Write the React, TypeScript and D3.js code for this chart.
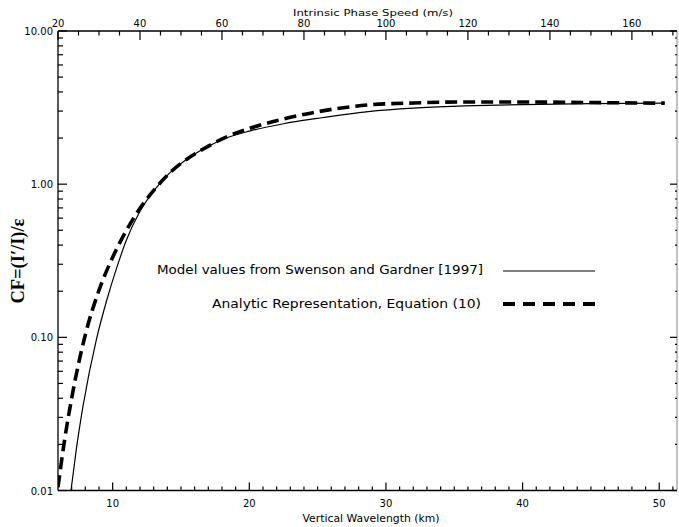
import React from "react";
import * as d3 from "d3";

// ---- data ----
const modelLambda = [6.95, 7.33, 7.84, 8.8, 9.53, 10.3, 11.0, 12.0, 13.2, 14.2, 15.4, 16.6, 18.3, 20.0, 22.5, 25.0, 28.7, 32.0, 35.7, 40.0, 45.0, 50.4];
const modelCF = [0.0100, 0.0183, 0.036, 0.096, 0.17, 0.285, 0.43, 0.665, 0.95, 1.19, 1.45, 1.69, 2.0, 2.22, 2.48, 2.69, 2.98, 3.14, 3.24, 3.31, 3.36, 3.38];

const analyticLambda = [6.0, 6.5, 7.0, 8.0, 9.0, 10.0, 11.0, 12.0, 13.2, 14.2, 15.4, 16.6, 18.3, 20.0, 22.5, 25.0, 28.7, 32.0, 36.0, 40.0, 45.0, 50.4];
const analyticCF = [0.0105, 0.0219, 0.040, 0.104, 0.203, 0.333, 0.498, 0.695, 0.955, 1.19, 1.45, 1.69, 2.03, 2.31, 2.66, 2.97, 3.29, 3.39, 3.44, 3.44, 3.41, 3.38];

const yMajorTicks = [0.01, 0.1, 1, 10];
const yMajorLabels = ["0.01", "0.10", "1.00", "10.00"];
const bottomMajorTicks = [10, 20, 30, 40, 50];
const topMajorTicks = [20, 40, 60, 80, 100, 120, 140, 160];

const legendLabels = [
  "Model values from Swenson and Gardner [1997]",
  "Analytic Representation, Equation (10)",
];

const xTitle = "Vertical Wavelength (km)";
const topTitle = "Intrinsic Phase Speed (m/s)";
const yTitle = "CF=(I\u2032/I)/\u03b5";

// ---- layout ----
const W = 679, H = 527;
const L = 58, R = 677, T = 31, B = 490.5;

export default function App() {
  const x = d3.scaleLinear().domain([6, 51.3]).range([L, R]);
  const y = d3.scaleLog().domain([0.01, 10]).range([B, T]);
  const cToX = (c: number) => x(c * 0.3);

  const line = d3
    .line<[number, number]>()
    .x((d) => x(d[0]))
    .y((d) => y(d[1]))
    .curve(d3.curveMonotoneX);

  const modelPts = modelLambda.map((l, i) => [l, modelCF[i]] as [number, number]);
  const anaPts = analyticLambda.map((l, i) => [l, analyticCF[i]] as [number, number]);

  const yMinor: number[] = [];
  for (let e = -2; e < 1; e++) for (let k = 2; k <= 9; k++) yMinor.push(k * Math.pow(10, e));
  const bottomMinor = d3.range(7, 52, 1).filter((v) => v % 10 !== 0);
  const topMinor = d3.range(25, 171, 5).filter((v) => v % 20 !== 0);

  const font = "'DejaVu Sans', sans-serif";

  return (
    <svg width={W} height={H} style={{ position: "absolute", left: 0, top: 0, background: "#fff" }}>
      <defs>
        <clipPath id="plotclip">
          <rect x={L} y={T} width={R - L} height={B - T} />
        </clipPath>
      </defs>
      <rect x={0} y={0} width={W} height={H} fill="#fff" />

      {/* axes frame */}
      <g stroke="#000" strokeWidth={1.3} fill="none">
        <line x1={L} x2={L} y1={T} y2={B} />
        <line x1={L} x2={R} y1={T} y2={T} />
        <line x1={L} x2={R} y1={B} y2={B} />
        <line x1={R} x2={R} y1={T} y2={B} strokeWidth={0.8} stroke="#666" />
      </g>

      {/* left / right ticks */}
      <g stroke="#000" strokeWidth={1.2}>
        {yMajorTicks.map((v) => (
          <line key={"ly" + v} x1={L} x2={L + 9} y1={y(v)} y2={y(v)} />
        ))}
        {yMinor.map((v) => (
          <line key={"lm" + v} x1={L} x2={L + 5} y1={y(v)} y2={y(v)} />
        ))}
        {yMajorTicks.map((v) => (
          <line key={"ry" + v} x1={R} x2={R - 7} y1={y(v)} y2={y(v)} />
        ))}
        {yMinor.map((v) => (
          <line key={"rm" + v} x1={R} x2={R - 2} y1={y(v)} y2={y(v)} />
        ))}
      </g>
      <g fontFamily={font} fontSize={10} textAnchor="end" fill="#000">
        {yMajorTicks.map((v, i) => (
          <text key={"yl" + v} x={L - 5} y={y(v) + 4}>
            {yMajorLabels[i]}
          </text>
        ))}
      </g>

      {/* bottom ticks */}
      <g stroke="#000" strokeWidth={1.2}>
        {bottomMajorTicks.map((v) => (
          <line key={"bx" + v} x1={x(v)} x2={x(v)} y1={B} y2={B - 8} />
        ))}
        {bottomMinor.map((v) => (
          <line key={"bm" + v} x1={x(v)} x2={x(v)} y1={B} y2={B - 4} />
        ))}
      </g>
      <g fontFamily={font} fontSize={10} textAnchor="middle" fill="#000">
        {bottomMajorTicks.map((v) => (
          <text key={"bl" + v} x={x(v)} y={507}>
            {v}
          </text>
        ))}
        <text x={371} y={522} textLength={137} lengthAdjust="spacingAndGlyphs" fontSize={10}>
          {xTitle}
        </text>
      </g>

      {/* top ticks */}
      <g stroke="#000" strokeWidth={1.2}>
        {topMajorTicks.map((v) => (
          <line key={"tx" + v} x1={cToX(v)} x2={cToX(v)} y1={T} y2={T + 9} />
        ))}
        {topMinor.map((v) => (
          <line key={"tm" + v} x1={cToX(v)} x2={cToX(v)} y1={T} y2={T + 4.5} />
        ))}
      </g>
      <g fontFamily={font} fontSize={10} textAnchor="middle" fill="#000">
        {topMajorTicks.map((v) => (
          <text key={"tl" + v} x={cToX(v)} y={26.5}>
            {v}
          </text>
        ))}
        <text x={373} y={16} fontSize={8.5} textLength={160} lengthAdjust="spacingAndGlyphs">
          {topTitle}
        </text>
      </g>

      {/* y title */}
      <text
        transform={`translate(24,261) rotate(-90)`}
        textAnchor="middle"
        fontFamily="'Liberation Serif', 'Times New Roman', serif"
        fontWeight="bold"
        fontSize={18}
        textLength={85}
        lengthAdjust="spacingAndGlyphs"
        fill="#000"
      >
        {yTitle}
      </text>

      {/* curves */}
      <g clipPath="url(#plotclip)" fill="none" stroke="#000">
        <path d={line(modelPts) || ""} strokeWidth={1.2} />
        <path d={line(anaPts) || ""} strokeWidth={3.6} strokeDasharray="12,6" />
      </g>

      {/* legend */}
      <g fontFamily={font} fontSize={12} fill="#000" textAnchor="end">
        <text x={483} y={274} textLength={326} lengthAdjust="spacingAndGlyphs">
          {legendLabels[0]}
        </text>
        <text x={481} y={308} textLength={269} lengthAdjust="spacingAndGlyphs">
          {legendLabels[1]}
        </text>
      </g>
      <line x1={503} x2={595} y1={271} y2={271} stroke="#000" strokeWidth={1.2} />
      <line x1={503} x2={595} y1={304} y2={304} stroke="#000" strokeWidth={4} strokeDasharray="12,8" />
    </svg>
  );
}
